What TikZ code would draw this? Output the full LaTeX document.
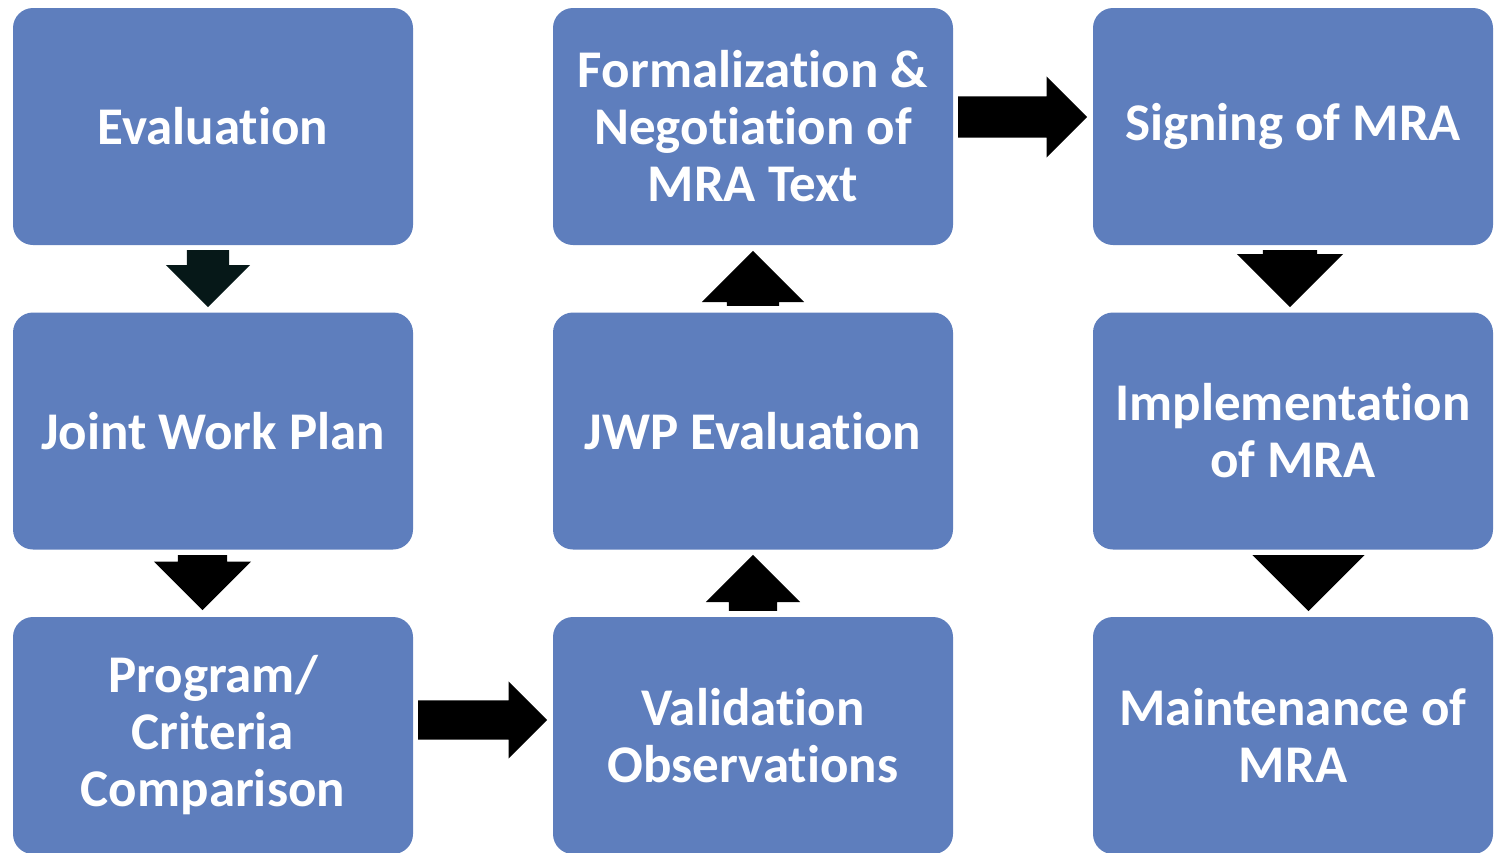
\documentclass[tikz,border=0pt]{standalone}
\usepackage{fontspec}
\setmainfont{Carlito}
\newfontfamily\stagefont[RawFeature={-liga;-clig}]{Carlito}
\usepackage{tikz}
\usetikzlibrary{shapes.arrows,calc}
\definecolor{boxblue}{RGB}{94,126,189}
\definecolor{arrowdark}{RGB}{6,24,24}

\begin{document}
\begin{tikzpicture} [x=1pt,y=-1pt,every node/.style={align=flush center},
	stage/.style={rectangle,rounded corners=20pt,fill=boxblue,minimum width=400pt,minimum height=237pt,text width=390pt,inner sep=0pt,text=white,font=\stagefont\fontsize{53}{57}\selectfont\bfseries},
	blockarrow/.style={single arrow,fill=black,draw=none,outer sep=0pt,inner xsep=0pt,single arrow head indent=0pt,single arrow tip angle=90,anchor=tail}]
			\useasboundingbox (0,0) rectangle (1499,852);
			% first column
			\node [stage] (eval) at (213,126.5) {Evaluation};
			\node [stage] (jwp) at (213,431) {Joint Work Plan};
			\node [stage] (prog) at (213,735.5) {Program/\\Criteria\\Comparison};
			% second column
			\node [stage] (valid) at (753,735.5) {Validation\\Observations};
			\node [stage] (jwpeval) at (753,431) {JWP Evaluation};
			\node [stage] (formal) at (753,126.5) {Formalization \&\\Negotiation of\\MRA Text};
			% third column
			\node [stage] (sign) at (1293,126.5) {Signing of MRA};
			\node [stage] (impl) at (1293,431) {Implementation\\of MRA};
			\node [stage] (maint) at (1293,735.5) {Maintenance of\\MRA};
			% block arrows
			\node [blockarrow,rotate=-90,fill=arrowdark,minimum height=57pt,inner ysep=21pt,single arrow head extend=21pt] (evaltojwp) at ($(eval.south)+(-5,5)$) {};
			\node [blockarrow,rotate=-90,minimum height=55pt,inner ysep=24.5pt,single arrow head extend=24pt] (jwptoprog) at ($(jwp.south)+(-10.5,5.5)$) {};
			\node [blockarrow,minimum height=129pt,inner ysep=19.5pt,single arrow head extend=19pt] (progtovalid) at ($(prog.east)+(5,-15.5)$) {};
			\node [blockarrow,rotate=90,minimum height=56pt,inner ysep=24pt,single arrow head extend=23pt] (validtojwpeval) at ($(valid.north)+(0,-6)$) {};
			\node [blockarrow,rotate=90,minimum height=55pt,inner ysep=26pt,single arrow head extend=25pt] (jwpevaltoformal) at ($(jwpeval.north)+(0,-6.5)$) {};
			\node [blockarrow,minimum height=129pt,inner ysep=20.5pt,single arrow head extend=20pt] (formaltosign) at ($(formal.east)+(5,-9.5)$) {};
			\node [blockarrow,rotate=-90,minimum height=57pt,inner ysep=27pt,single arrow head extend=26pt] (signtoimpl) at ($(sign.south)+(-3,5)$) {};
			\node [blockarrow,rotate=-90,minimum height=56pt,inner ysep=28.5pt,single arrow head extend=27.5pt] (impltomaint) at ($(impl.south)+(15.5,5.5)$) {};
		\end{tikzpicture}
\end{document}
